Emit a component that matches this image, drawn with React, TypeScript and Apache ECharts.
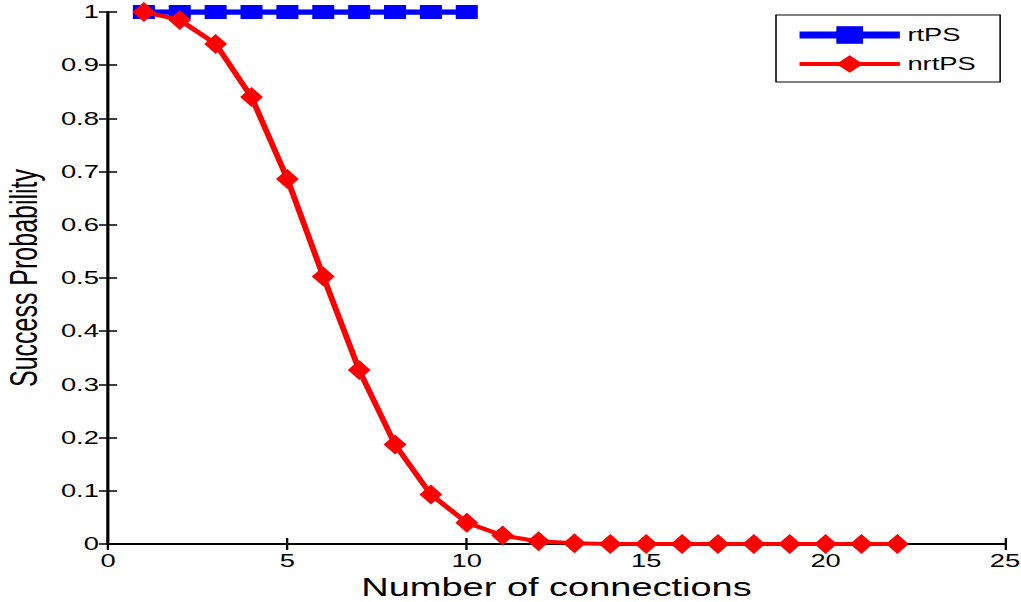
import React, { useEffect, useRef } from "react";
import * as echarts from "echarts";

const rtConnections = [1, 2, 3, 4, 5, 6, 7, 8, 9, 10];
const rtPS = [1, 1, 1, 1, 1, 1, 1, 1, 1, 1];
const nrtConnections = [1, 2, 3, 4, 5, 6, 7, 8, 9, 10, 11, 12, 13, 14, 15, 16, 17, 18, 19, 20, 21, 22];
const nrtPS = [1.0, 0.985, 0.94, 0.84, 0.686, 0.503, 0.327, 0.187, 0.093, 0.04, 0.016, 0.005, 0.0015, 0, 0, 0, 0, 0, 0, 0, 0, 0];

const W = 672;
const H = 602;
const S = 1021 / W;
const FONT = "Liberation Sans, Arial, sans-serif";

export default function App() {
  const ref = useRef<HTMLDivElement>(null);
  useEffect(() => {
    if (!ref.current) return;
    const chart = echarts.init(ref.current, null, { renderer: "svg" });
    const axisLine = { show: true, lineStyle: { color: "#000", width: 1.8 } };
    const tick = { show: true, inside: true, length: 6, lineStyle: { color: "#000", width: 1.5 } };
    chart.setOption({
      animation: false,
      backgroundColor: "#fff",
      textStyle: { fontFamily: FONT },
      grid: {
        left: 108 / S,
        right: W - 1005 / S,
        top: 12,
        bottom: 58,
        containLabel: false,
        outerBoundsMode: "none",
      },
      legend: {
        orient: "vertical",
        left: 776 / S,
        top: 15,
        padding: [11, 16, 9, 12],
        itemGap: 11,
        itemWidth: 66,
        itemHeight: 22,
        backgroundColor: "#fff",
        borderColor: "#000",
        borderWidth: 1,
        borderRadius: 0,
        textStyle: { fontSize: 18, color: "#000", fontFamily: FONT },
        data: [
          { name: "rtPS", lineStyle: { width: 7, color: "#0000ff" } },
          { name: "nrtPS", lineStyle: { width: 4, color: "#ff0000" } },
        ],
      },
      xAxis: [
        {
          type: "value",
          min: 0,
          max: 25,
          interval: 5,
          name: "Number of connections",
          nameLocation: "middle",
          nameGap: 27,
          nameTextStyle: { fontSize: 25, color: "#000", fontFamily: FONT },
          axisLine,
          axisTick: tick,
          axisLabel: { fontSize: 18, color: "#000", margin: 8, fontFamily: FONT },
          splitLine: { show: false },
        },
        {
          type: "value",
          position: "top",
          min: 0,
          max: 25,
          interval: 5,
          axisLine,
          axisTick: tick,
          axisLabel: { show: false },
          splitLine: { show: false },
        },
      ],
      yAxis: [
        {
          type: "value",
          min: 0,
          max: 1,
          interval: 0.1,
          name: "Success Probability",
          nameLocation: "middle",
          nameGap: 43,
          nameTextStyle: { fontSize: 25, color: "#000", fontFamily: FONT },
          axisLine,
          axisTick: tick,
          axisLabel: { fontSize: 18, color: "#000", margin: 6, fontFamily: FONT },
          splitLine: { show: false },
        },
        {
          type: "value",
          position: "right",
          min: 0,
          max: 1,
          interval: 0.1,
          axisLine,
          axisTick: tick,
          axisLabel: { show: false },
          splitLine: { show: false },
        },
      ],
      series: [
        {
          name: "rtPS",
          type: "line",
          data: rtConnections.map((x, i) => [x, rtPS[i]]),
          symbol: "rect",
          symbolSize: [14.5, 14],
          lineStyle: { color: "#0000ff", width: 5.5 },
          itemStyle: { color: "#0000ff" },
          z: 2,
        },
        {
          name: "nrtPS",
          type: "line",
          data: nrtConnections.map((x, i) => [x, nrtPS[i]]),
          symbol: "diamond",
          symbolSize: [15, 20],
          lineStyle: { color: "#ff0000", width: 4 },
          itemStyle: { color: "#ff0000" },
          z: 3,
        },
      ],
    });
    return () => chart.dispose();
  }, []);
  return (
    <div
      style={{
        position: "fixed",
        left: 0,
        top: 0,
        width: 1021,
        height: 602,
        overflow: "hidden",
        background: "#fff",
      }}
    >
      <div
        ref={ref}
        style={{
          width: W,
          height: H,
          transform: `scaleX(${S})`,
          transformOrigin: "0 0",
        }}
      />
    </div>
  );
}
